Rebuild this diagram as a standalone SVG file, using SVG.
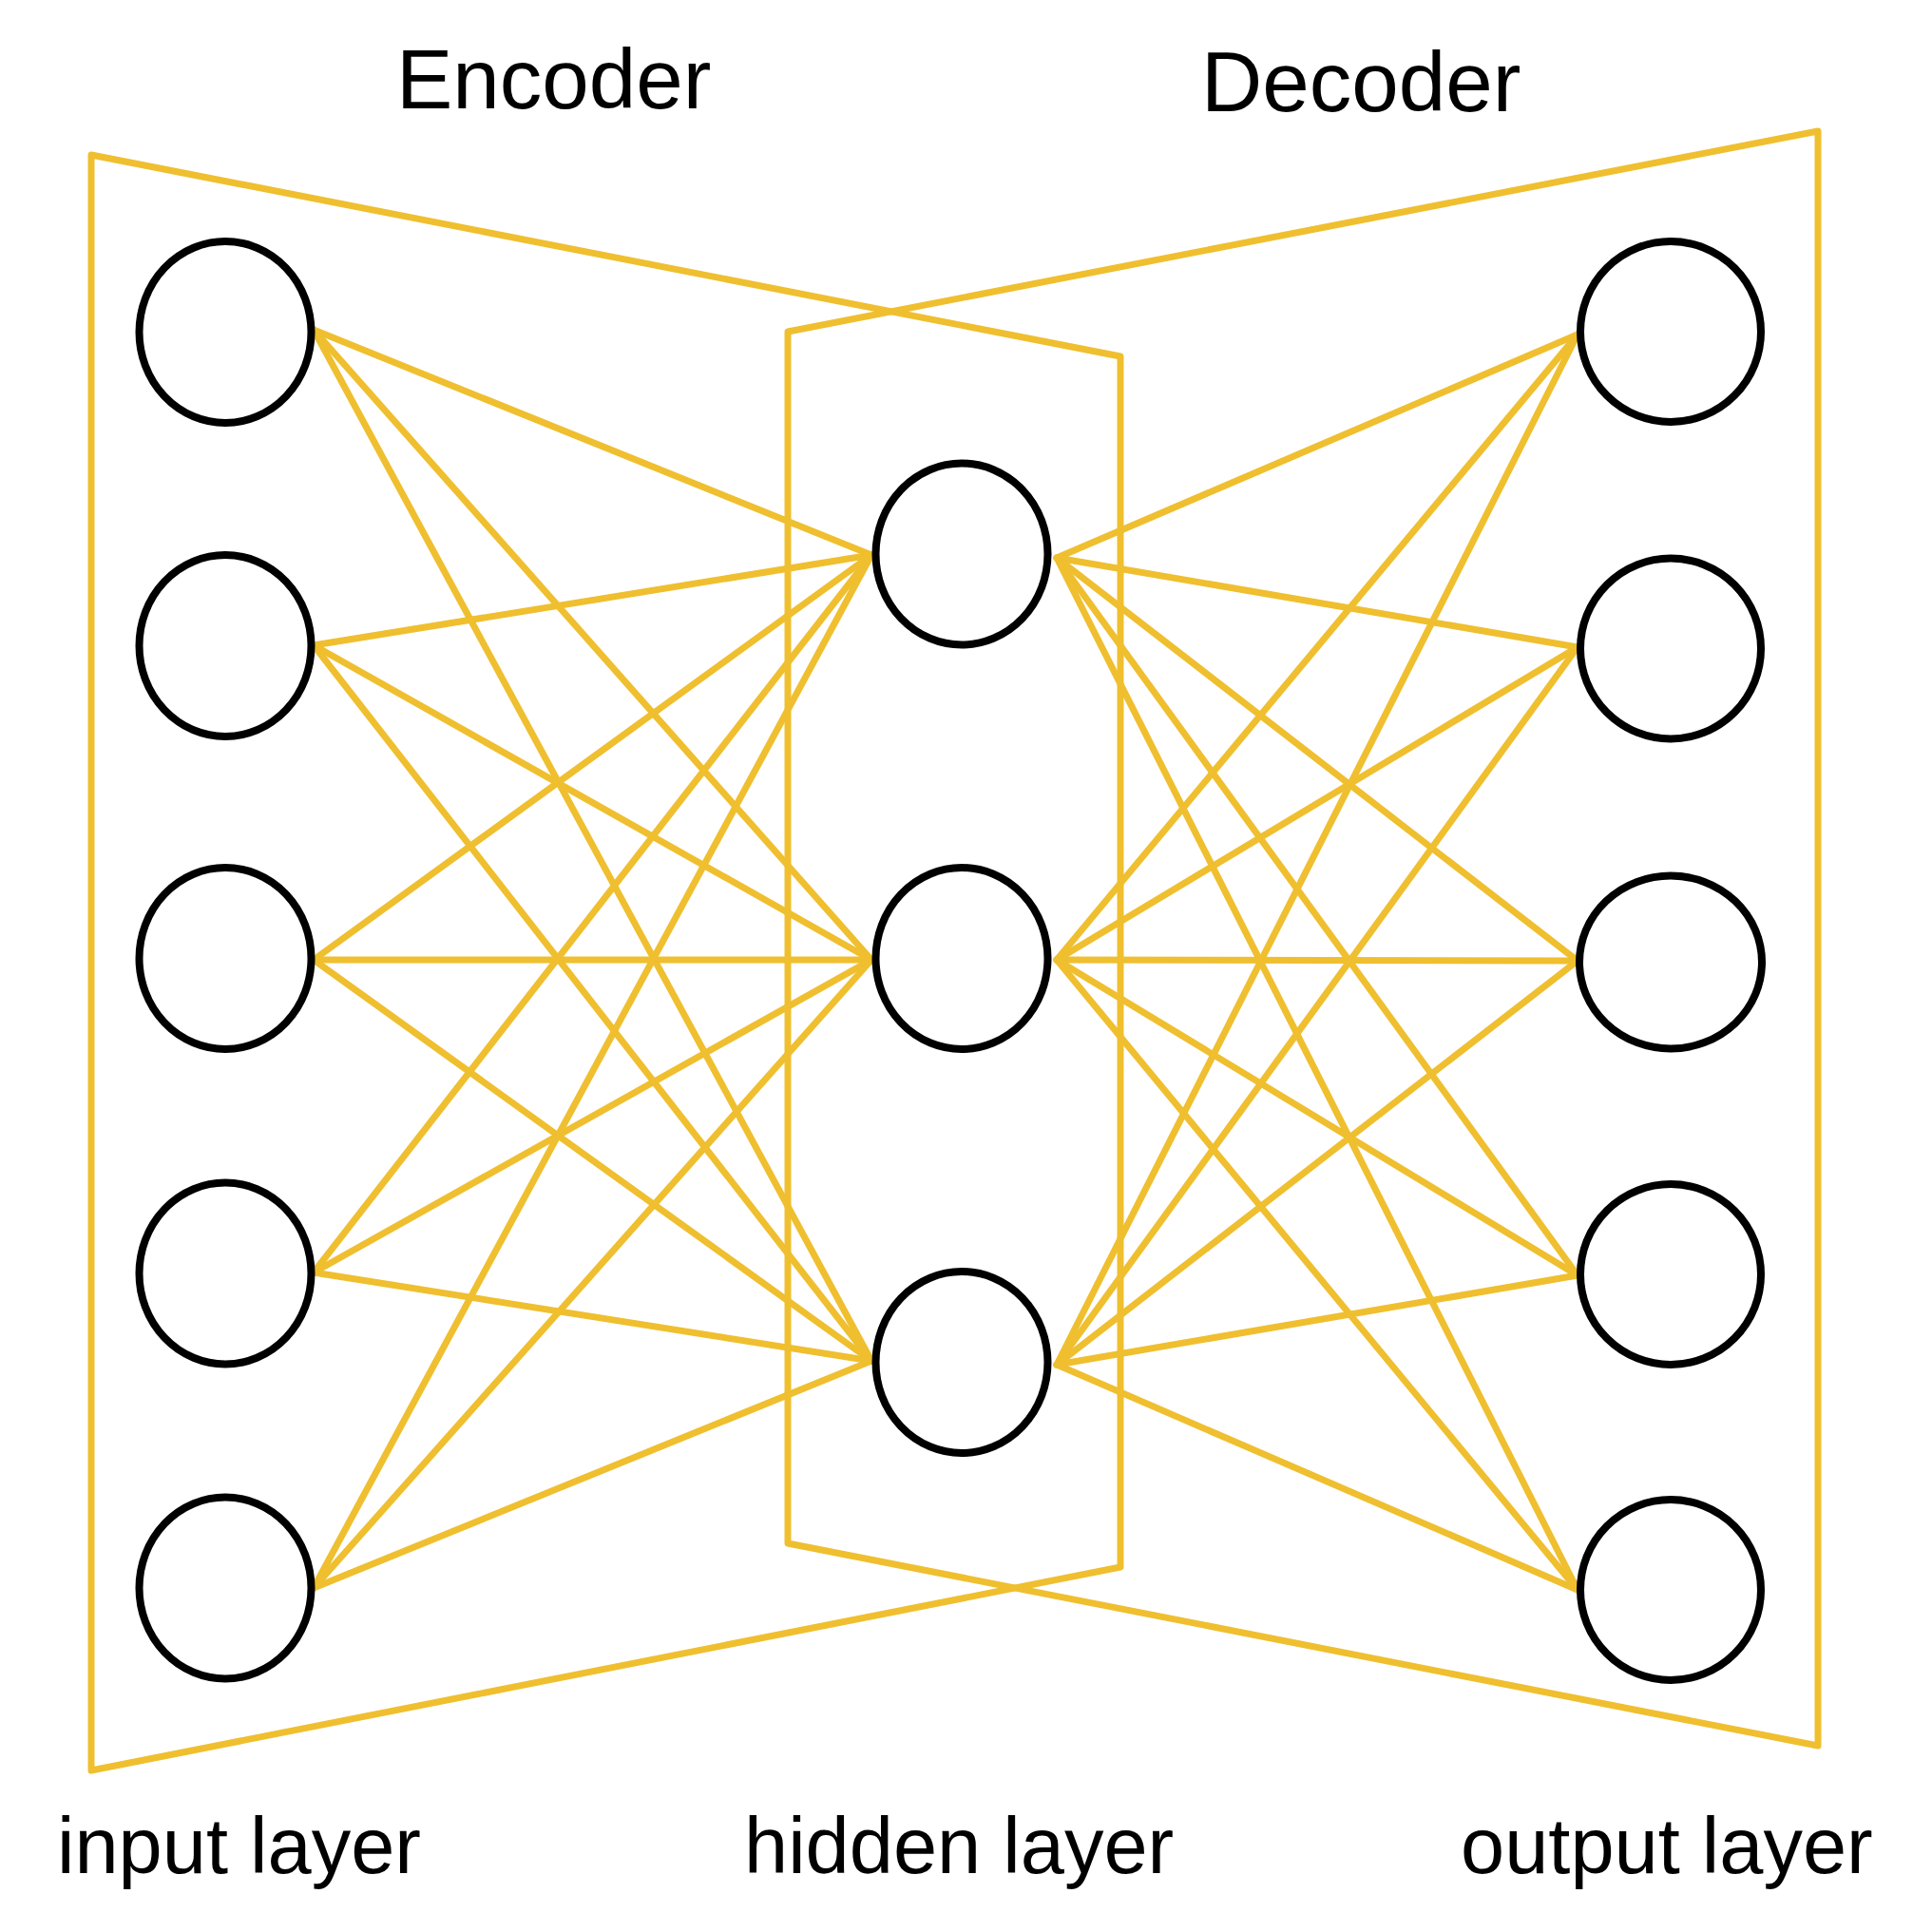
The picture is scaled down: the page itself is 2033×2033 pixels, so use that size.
<svg xmlns="http://www.w3.org/2000/svg" width="2033" height="2033" viewBox="0 0 2033 2033">
<style>
.bg{fill:#ffffff}
.frame{fill:none;stroke:#EFBF2F;stroke-width:7;stroke-linejoin:round;stroke-linecap:round}
.edge{fill:none;stroke:#EFBF2F;stroke-width:7;stroke-linecap:round}
.node{fill:#ffffff;stroke:#000000;stroke-width:8}
.title{font-family:"Liberation Sans",Arial,Helvetica,sans-serif;font-size:89px;fill:#000000}
.label{font-family:"Liberation Sans",Arial,Helvetica,sans-serif;font-size:83px;fill:#000000}
</style>
<rect class="bg" x="0" y="0" width="2033" height="2033"/>
<g id="frames">
<polygon id="encoder-frame" class="frame" points="96,163 1179,375 1179,1649 96,1863"/>
<polygon id="decoder-frame" class="frame" points="1913,138 829,349 829,1624 1913,1837"/>
</g>
<g id="connectors">
<line class="edge" x1="330" y1="347" x2="917" y2="584"/>
<line class="edge" x1="330" y1="347" x2="917" y2="1010"/>
<line class="edge" x1="330" y1="347" x2="917" y2="1432"/>
<line class="edge" x1="330" y1="679" x2="917" y2="584"/>
<line class="edge" x1="330" y1="679" x2="917" y2="1010"/>
<line class="edge" x1="330" y1="679" x2="917" y2="1432"/>
<line class="edge" x1="330" y1="1010" x2="917" y2="584"/>
<line class="edge" x1="330" y1="1010" x2="917" y2="1010"/>
<line class="edge" x1="330" y1="1010" x2="917" y2="1432"/>
<line class="edge" x1="330" y1="1339" x2="917" y2="584"/>
<line class="edge" x1="330" y1="1339" x2="917" y2="1010"/>
<line class="edge" x1="330" y1="1339" x2="917" y2="1432"/>
<line class="edge" x1="330" y1="1671" x2="917" y2="584"/>
<line class="edge" x1="330" y1="1671" x2="917" y2="1010"/>
<line class="edge" x1="330" y1="1671" x2="917" y2="1432"/>
<line class="edge" x1="1112" y1="587" x2="1660" y2="352"/>
<line class="edge" x1="1112" y1="587" x2="1660" y2="681"/>
<line class="edge" x1="1112" y1="587" x2="1660" y2="1011"/>
<line class="edge" x1="1112" y1="587" x2="1660" y2="1342"/>
<line class="edge" x1="1112" y1="587" x2="1660" y2="1673"/>
<line class="edge" x1="1112" y1="1010" x2="1660" y2="352"/>
<line class="edge" x1="1112" y1="1010" x2="1660" y2="681"/>
<line class="edge" x1="1112" y1="1010" x2="1660" y2="1011"/>
<line class="edge" x1="1112" y1="1010" x2="1660" y2="1342"/>
<line class="edge" x1="1112" y1="1010" x2="1660" y2="1673"/>
<line class="edge" x1="1112" y1="1436" x2="1660" y2="352"/>
<line class="edge" x1="1112" y1="1436" x2="1660" y2="681"/>
<line class="edge" x1="1112" y1="1436" x2="1660" y2="1011"/>
<line class="edge" x1="1112" y1="1436" x2="1660" y2="1342"/>
<line class="edge" x1="1112" y1="1436" x2="1660" y2="1673"/>
</g>
<g id="input-1"><ellipse class="node" cx="237" cy="349.5" rx="90.5" ry="95.5"/></g>
<g id="input-2"><ellipse class="node" cx="237" cy="679.5" rx="90.5" ry="95.5"/></g>
<g id="input-3"><ellipse class="node" cx="237" cy="1008.5" rx="90.5" ry="95.5"/></g>
<g id="input-4"><ellipse class="node" cx="237" cy="1340" rx="90.5" ry="95.5"/></g>
<g id="input-5"><ellipse class="node" cx="237" cy="1671" rx="90.5" ry="95.5"/></g>
<g id="hidden-1"><ellipse class="node" cx="1012" cy="583" rx="90.5" ry="95.5"/></g>
<g id="hidden-2"><ellipse class="node" cx="1012" cy="1008.5" rx="90.5" ry="95.5"/></g>
<g id="hidden-3"><ellipse class="node" cx="1012" cy="1433.5" rx="90.5" ry="95.5"/></g>
<g id="output-1"><ellipse class="node" cx="1758" cy="349" rx="95" ry="95"/></g>
<g id="output-2"><ellipse class="node" cx="1758" cy="682.5" rx="95" ry="95"/></g>
<g id="output-3"><ellipse class="node" cx="1758" cy="1012.5" rx="96" ry="91"/></g>
<g id="output-4"><ellipse class="node" cx="1758" cy="1341" rx="95" ry="95"/></g>
<g id="output-5"><ellipse class="node" cx="1758" cy="1673" rx="95" ry="95"/></g>
<g id="labels">
<text class="title" x="417" y="114">Encoder</text>
<text class="title" x="1264" y="117">Decoder</text>
<text class="label" x="60" y="1971">input layer</text>
<text class="label" x="783" y="1971">hidden layer</text>
<text class="label" x="1537" y="1971">output layer</text>
</g>
</svg>
